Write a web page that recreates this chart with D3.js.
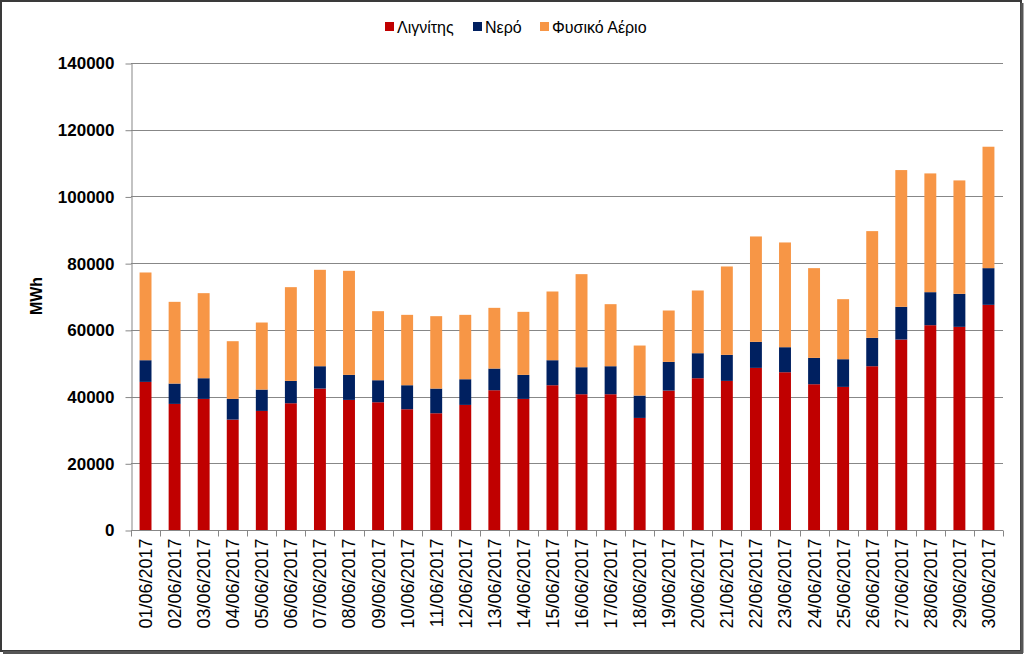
<!DOCTYPE html>
<html>
<head>
<meta charset="utf-8">
<script src="https://cdn.jsdelivr.net/npm/d3@7"></script>
<style>
  html, body { margin: 0; padding: 0; background: #fff; }
  svg { display: block; }
</style>
</head>
<body>
<svg id="chart" width="1024" height="655"></svg>
<script>
const categories = ["01/06/2017","02/06/2017","03/06/2017","04/06/2017","05/06/2017","06/06/2017","07/06/2017","08/06/2017","09/06/2017","10/06/2017","11/06/2017","12/06/2017","13/06/2017","14/06/2017","15/06/2017","16/06/2017","17/06/2017","18/06/2017","19/06/2017","20/06/2017","21/06/2017","22/06/2017","23/06/2017","24/06/2017","25/06/2017","26/06/2017","27/06/2017","28/06/2017","29/06/2017","30/06/2017"];
const lignite = [44400,37800,39300,33100,35700,38000,42400,39000,38300,36200,35000,37500,41900,39300,43400,40700,40700,33600,41800,45500,44700,48600,47300,43700,42900,49100,57100,61400,60900,67500];
const hydro   = [6500,6100,6200,6200,6400,6700,6700,7500,6600,7200,7400,7700,6500,7200,7500,8100,8400,6700,8600,7500,7800,7800,7500,7900,8300,8500,9800,9900,9900,11000];
const gas     = [26300,24500,25500,17300,20100,28100,28900,31200,20700,21100,21700,19300,18200,18900,20600,27900,18600,15000,15400,18800,26500,31600,31400,26900,18000,32000,41000,35600,34000,36400];
const seriesNames = ["Λιγνίτης","Νερό","Φυσικό Αέριο"];
const seriesColors = ["#C00000","#002060","#F79646"];
const yTicks = [0,20000,40000,60000,80000,100000,120000,140000];
const yLabel = "MWh";

(function(){
const svg = d3.select("#chart");
const pLeft = 131, pRight = 1003, pTop = 63, pBottom = 530;
const font = "'Liberation Sans', Arial, sans-serif";

// frame
svg.append("rect").attr("x",1).attr("y",1).attr("width",1020).attr("height",650)
  .attr("fill","#fff").attr("stroke","#3a3a3a").attr("stroke-width",2);
svg.append("line").attr("x1",1022).attr("x2",1022).attr("y1",3).attr("y2",653).attr("stroke","#555").attr("stroke-width",3);
svg.append("line").attr("x1",3).attr("x2",1023).attr("y1",652.5).attr("y2",652.5).attr("stroke","#555").attr("stroke-width",3);

const data = categories.map((c,i) => ({cat:c, s0:lignite[i], s1:hydro[i], s2:gas[i]}));
const stack = d3.stack().keys(["s0","s1","s2"])(data);

const x = d3.scaleBand().domain(categories).range([pLeft,pRight]).paddingInner(0.59).paddingOuter(0.295);
const y = d3.scaleLinear().domain([0,140000]).range([pBottom,pTop]);

// gridlines
svg.append("g").selectAll("line").data(yTicks.filter(t=>t>0)).join("line")
  .attr("x1",pLeft).attr("x2",pRight)
  .attr("y1",d=>Math.round(y(d))+0.5).attr("y2",d=>Math.round(y(d))+0.5)
  .attr("stroke","#878787").attr("stroke-width",1);

// y axis
const yAxis = d3.axisLeft(y).tickValues(yTicks).tickSize(6).tickSizeOuter(0).tickPadding(11).tickFormat(d3.format("d"));
const yg = svg.append("g").attr("transform",`translate(${pLeft+0.5},0.5)`).call(yAxis);
yg.select(".domain").attr("stroke","#878787");
yg.selectAll(".tick line").attr("stroke","#878787");
yg.selectAll("text").attr("font-family",font).attr("font-size",17).attr("font-weight","bold").attr("fill","#000");

// bars
svg.append("g").selectAll("g").data(stack).join("g")
  .attr("fill",(d,i)=>seriesColors[i])
  .selectAll("rect").data(d=>d).join("rect")
  .attr("x",d=>x(d.data.cat))
  .attr("width",x.bandwidth())
  .attr("y",d=>y(d[1]))
  .attr("height",d=>y(d[0])-y(d[1]));

// x axis
const xg = svg.append("g").attr("transform",`translate(0,${pBottom+0.5})`);
xg.append("line").attr("x1",pLeft).attr("x2",pRight).attr("stroke","#878787");
const step = x.step();
const bounds = d3.range(categories.length+1).map(i => pLeft + i*step);
xg.selectAll("line.tk").data(bounds).join("line").attr("class","tk")
  .attr("x1",d=>Math.round(d)+0.5).attr("x2",d=>Math.round(d)+0.5).attr("y1",0).attr("y2",6)
  .attr("stroke","#878787");
xg.selectAll("text").data(categories).join("text")
  .attr("transform",d=>`translate(${x(d)+x.bandwidth()/2},8) rotate(-90)`)
  .attr("text-anchor","end").attr("dy","0.36em")
  .attr("font-family",font).attr("font-size",18).attr("fill","#000")
  .text(d=>d);

// y label
svg.append("text").attr("transform","translate(42,296) rotate(-90)")
  .attr("text-anchor","middle").attr("font-family",font).attr("font-size",16)
  .attr("font-weight","bold").text(yLabel);

// legend
const legX = [385, 473, 540];
const lg = svg.append("g");
seriesNames.forEach((n,i)=>{
  lg.append("rect").attr("x",legX[i]).attr("y",22).attr("width",9).attr("height",9).attr("fill",seriesColors[i]);
  lg.append("text").attr("x",legX[i]+12).attr("y",32.5).attr("font-family",font).attr("font-size",16).attr("fill","#000").text(n);
});
})();
</script>
</body>
</html>
